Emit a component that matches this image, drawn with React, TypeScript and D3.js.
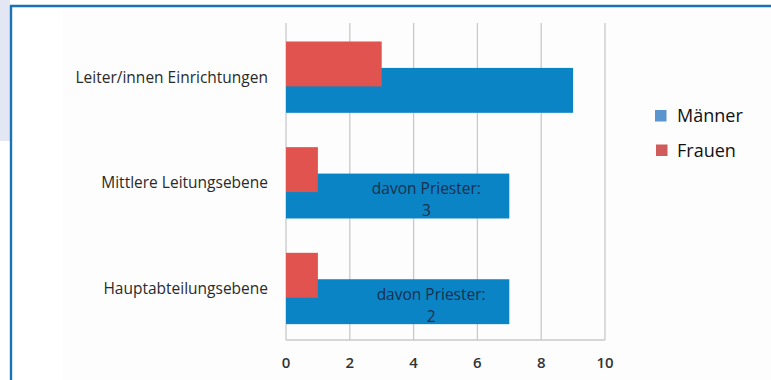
import React from "react";
import * as d3 from "d3";

// Leadership positions by level, split by gender
const categories = ["Leiter/innen Einrichtungen", "Mittlere Leitungsebene", "Hauptabteilungsebene"];
const maenner = [9, 7, 7];
const frauen = [3, 1, 1];
const seriesNames = ["Männer", "Frauen"];
const xTicks = [0, 2, 4, 6, 8, 10];
// Notes inside the men's bars: [category, note line 1, note line 2, x position in data units]
const notes: [string, string, string, number][] = [
  ["Mittlere Leitungsebene", "davon Priester:", "3", 4.4],
  ["Hauptabteilungsebene", "davon Priester:", "2", 4.55],
];

const W = 771;
const H = 380;
const BLUE = "#0a84c4";
const RED = "#e0534f";
const FONT = "'Open Sans', 'Noto Sans', sans-serif";

export default function App() {
  const x = d3.scaleLinear().domain([0, 10]).range([286, 605]);
  const y = d3.scaleBand<string>().domain(categories).range([23, 340]);
  const bw = y.bandwidth();
  const barH = bw * 0.425;
  const offset = bw * 0.25;
  const padTop = bw * 0.175;

  return (
    <svg
      width={W}
      height={H}
      style={{ position: "absolute", left: 0, top: 0, background: "#fff" }}
      fontFamily={FONT}
    >
      {/* page frame */}
      <rect x={0} y={0} width={10} height={141} fill="#e2e7f3" />
      <rect x={63} y={8} width={W - 63} height={H - 8} fill="#fdfdfd" />
      <line x1={10} x2={W} y1={6} y2={6} stroke="#1b72b6" strokeWidth={2.4} />
      <line x1={11} x2={11} y1={5} y2={H} stroke="#1b72b6" strokeWidth={2.4} />

      {/* vertical gridlines */}
      {xTicks.map((t) => (
        <line key={t} x1={x(t)} x2={x(t)} y1={23} y2={340} stroke="#c9c9c9" strokeWidth={1.3} />
      ))}
      <line x1={x(0)} x2={x(10)} y1={340} y2={340} stroke="#c9c9c9" strokeWidth={1.3} />

      {/* men (drawn first), women overlapping on top */}
      {categories.map((c, i) => {
        const top = (y(c) ?? 0) + padTop;
        return (
          <g key={c}>
            <rect x={x(0)} y={top + offset} width={x(maenner[i]) - x(0)} height={barH} fill={BLUE} />
            <rect x={x(0)} y={top} width={x(frauen[i]) - x(0)} height={barH} fill={RED} />
          </g>
        );
      })}

      {/* notes inside bars */}
      {notes.map(([c, l1, l2, xv]) => {
        const cy = (y(c) ?? 0) + padTop + offset + barH / 2;
        return (
          <g key={c} fill="#1a2f4d" fontSize={15.5} textAnchor="middle">
            <text x={x(xv)} y={cy - 7} dy="0.35em">{l1}</text>
            <text x={x(xv)} y={cy + 15} dy="0.35em">{l2}</text>
          </g>
        );
      })}

      {/* category labels */}
      {categories.map((c) => (
        <text
          key={c}
          x={268}
          y={(y(c) ?? 0) + padTop + (offset + barH) / 2}
          dy="0.35em"
          textAnchor="end"
          fontSize={15.5}
          fill="#2a2a2a"
        >
          {c}
        </text>
      ))}

      {/* x tick labels */}
      {xTicks.map((t) => (
        <text key={t} x={x(t)} y={363} dy="0.35em" textAnchor="middle" fontSize={15} fontWeight={600} fill="#333">
          {t}
        </text>
      ))}

      {/* legend */}
      {seriesNames.map((s, i) => (
        <g key={s} transform={`translate(655, ${110 + i * 34.5})`}>
          <rect x={i} y={0} width={11.5} height={11.5} fill={i === 0 ? "#5b95cd" : "#cf5b5b"} />
          <text x={22} y={6} dy="0.35em" fontSize={18} fill="#111">
            {s}
          </text>
        </g>
      ))}
    </svg>
  );
}
